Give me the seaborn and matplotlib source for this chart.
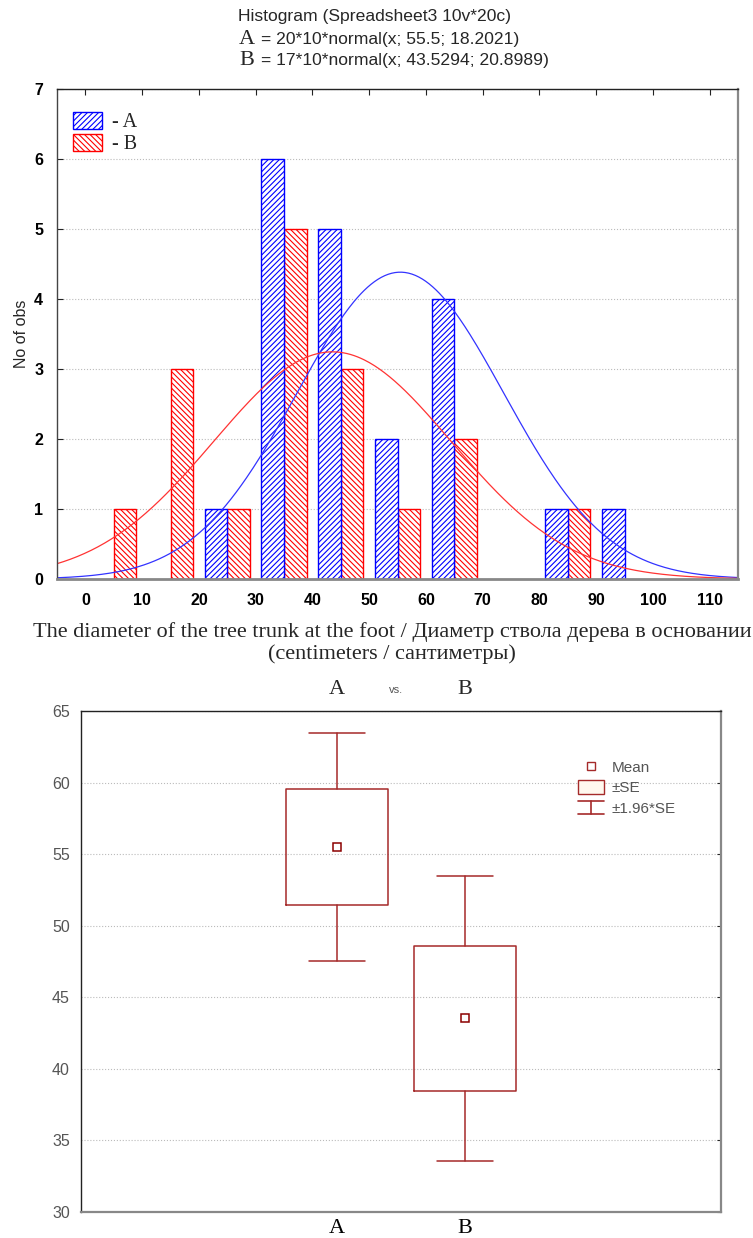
# Histogram of trunk diameters (A vs B) with fitted normal curves, plus mean/SE/1.96*SE box chart

import numpy as np
import pandas as pd
import matplotlib
matplotlib.use("Agg")
import matplotlib.pyplot as plt
import seaborn as sns
from matplotlib.patches import Patch
from matplotlib.lines import Line2D
from matplotlib.legend_handler import HandlerBase
from matplotlib.transforms import blended_transform_factory

GROUPS = ["A", "B"]
BIN_CENTERS = [5, 15, 25, 35, 45, 55, 65, 75, 85, 95]
COUNTS_A = [0, 0, 1, 6, 5, 2, 4, 0, 1, 1]
COUNTS_B = [1, 3, 1, 5, 3, 1, 2, 0, 1, 0]
N_OBS = [20, 17]
MEANS = [55.5, 43.5294]
SDS = [18.2021, 20.8989]
X_TICKS = list(range(0, 111, 10))
Y_TICKS = list(range(0, 8))
BOX_POS = [2, 3]
BOX_TICKS = [1, 2, 3, 4]
BOX_LABELS = ["", "A", "B", ""]
Y2_TICKS = list(range(30, 66, 5))

BLUE = "#0000ff"
RED = "#ff0000"
MAROON = "#a52a2a"
SERIF = ["Liberation Serif", "DejaVu Serif"]

sns.set_style("white")
plt.rcParams["font.family"] = ["Liberation Sans", "DejaVu Sans"]
plt.rcParams["hatch.linewidth"] = 0.8


# legend symbol for the 1.96*SE whisker
class WhiskerHandler(HandlerBase):
    def create_artists(self, legend, orig_handle, xd, yd, w, h, fontsize, trans):
        x0, y0 = -xd, -yd
        cx = x0 + w / 2
        kw = dict(color=MAROON, lw=1.2, transform=trans)
        return [Line2D([cx, cx], [y0, y0 + h], **kw),
                Line2D([x0, x0 + w], [y0 + h, y0 + h], **kw),
                Line2D([x0, x0 + w], [y0, y0], **kw)]


fig = plt.figure(figsize=(7.53, 12.38), dpi=100)

# ---------- histogram ----------
ax = fig.add_axes([0.0757, 0.5323, 0.9044, 0.3958])
hist_df = pd.DataFrame({
    "diameter": BIN_CENTERS * 2,
    "count": COUNTS_A + COUNTS_B,
    "group": ["A"] * len(BIN_CENTERS) + ["B"] * len(BIN_CENTERS),
})
sns.histplot(data=hist_df, x="diameter", weights="count", hue="group",
             hue_order=GROUPS, binwidth=10, binrange=(0, 100), multiple="dodge",
             shrink=0.8, palette={"A": BLUE, "B": RED}, alpha=1,
             legend=False, ax=ax)
for p in ax.patches:
    col = BLUE if p.get_facecolor()[2] > 0.5 else RED
    p.set_facecolor("white")
    p.set_edgecolor(col)
    p.set_linewidth(1.0)
    p.set_hatch("//////" if col == BLUE else "\\\\\\\\\\\\")
    if p.get_height() == 0:
        p.set_visible(False)

xs = np.linspace(-5, 115, 400)
for n, m, sd, col in zip(N_OBS, MEANS, SDS, ["#3333ff", "#ff3333"]):
    ys = n * 10 * np.exp(-0.5 * ((xs - m) / sd) ** 2) / (sd * np.sqrt(2 * np.pi))
    sns.lineplot(x=xs, y=ys, color=col, lw=0.9, estimator=None, ax=ax)

ax.set_xlim(-5, 115)
ax.set_ylim(0, 7)
ax.set_xticks(X_TICKS)
ax.set_yticks(Y_TICKS)
ax.set_xlabel("")
ax.set_ylabel("No of obs", fontsize=11.5, labelpad=4)
ax.yaxis.grid(True, ls=":", color="#bbbbbb", lw=0.8)
ax.set_axisbelow(True)
ax.tick_params(axis="both", direction="in", length=4, labelsize=11.5,
               colors="#222222", labelcolor="black")
ax.tick_params(axis="x", top=True, pad=10)
ax.tick_params(axis="y", left=True, pad=10)
for lab in ax.get_xticklabels() + ax.get_yticklabels():
    lab.set_fontweight("bold")
for side, c, w in [("top", "#222222", 1.0), ("left", "#444444", 1.0),
                   ("right", "#888888", 1.6), ("bottom", "#888888", 2.0)]:
    ax.spines[side].set_color(c)
    ax.spines[side].set_linewidth(w)

handles = [Patch(facecolor="white", edgecolor=BLUE, hatch="//////", label="- A"),
           Patch(facecolor="white", edgecolor=RED, hatch="\\\\\\\\\\\\", label="- B")]
ax.legend(handles=handles, loc="upper left", bbox_to_anchor=(0.0, 0.985),
          frameon=False, prop={"family": SERIF, "size": 14.5},
          handlelength=1.45, handleheight=0.85, handletextpad=0.5,
          labelspacing=0.1, borderaxespad=0.4)

# titles (mixed serif / sans like the original)
fig.text(0.498, 0.983, "Histogram (Spreadsheet3 10v*20c)", ha="center",
         va="baseline", fontsize=12.6)
for y, g, n, m, sd in [(0.9645, "A", 20, "55.5", "18.2021"),
                       (0.9475, "B", 17, "43.5294", "20.8989")]:
    fig.text(0.338, y, g, ha="right", va="baseline", family=SERIF, fontsize=16)
    fig.text(0.346, y, f"= {n}*10*normal(x; {m}; {sd})", ha="left",
             va="baseline", fontsize=12.6)

fig.text(0.5206, 1 - 643 / 1238,
         "The diameter of the tree trunk at the foot / Диаметр ствола дерева в основании\n"
         "(centimeters / сантиметры)",
         ha="center", va="center", multialignment="center", family=SERIF,
         fontsize=16, linespacing=1.15)

# ---------- mean / SE chart ----------
ax2 = fig.add_axes([0.1076, 0.0210, 0.8499, 0.4047])
se = [sd / np.sqrt(n) for sd, n in zip(SDS, N_OBS)]
stats = [dict(label=g, med=m, mean=m, q1=m - s, q3=m + s,
              whislo=m - 1.96 * s, whishi=m + 1.96 * s, fliers=[])
         for g, m, s in zip(GROUPS, MEANS, se)]
line_kw = dict(color=MAROON, lw=1.1)
ax2.bxp(stats, positions=BOX_POS, widths=0.8, capwidths=0.43, showmeans=True,
        manage_ticks=False, boxprops=line_kw, whiskerprops=line_kw,
        capprops=line_kw, medianprops=dict(lw=0),
        meanprops=dict(marker="s", markerfacecolor="white",
                       markeredgecolor="#8b0000", markersize=6, mew=1.1))

ax2.set_xlim(0, 5)
ax2.set_ylim(30, 65)
ax2.set_xticks(BOX_TICKS)
ax2.set_xticklabels(BOX_LABELS, family=SERIF, fontsize=16)
ax2.set_yticks(Y2_TICKS)
ax2.yaxis.grid(True, ls=":", color="#bbbbbb", lw=0.8)
ax2.set_axisbelow(True)
ax2.tick_params(axis="x", direction="in", length=4, pad=5, colors="#222222",
                labelcolor="black")
ax2.tick_params(axis="y", direction="in", length=3, left=False, right=True,
                labelleft=True, labelsize=11.5, labelcolor="#555555", pad=8)
for side, c, w in [("top", "#222222", 1.0), ("left", "#222222", 1.0),
                   ("right", "#888888", 1.6), ("bottom", "#888888", 1.6)]:
    ax2.spines[side].set_color(c)
    ax2.spines[side].set_linewidth(w)

whisk = Line2D([], [], color=MAROON)
leg_handles = [Line2D([], [], marker="s", ls="none", markerfacecolor="white",
                      markeredgecolor=MAROON, markersize=6),
               Patch(facecolor="#fff8ee", edgecolor=MAROON, lw=1.0),
               whisk]
ax2.legend(leg_handles, ["Mean", "±SE", "±1.96*SE"], loc="upper left",
           bbox_to_anchor=(0.755, 0.93), frameon=False, fontsize=11,
           labelcolor="#555555", handlelength=1.7, handleheight=1.0,
           handletextpad=0.5, labelspacing=0.35,
           handler_map={whisk: WhiskerHandler()})

# "A vs. B" heading above the lower chart
tr = blended_transform_factory(ax2.transData, fig.transFigure)
y_head = 1 - 689 / 1238
ax2.text(2, y_head, "A", transform=tr, ha="center", va="center", family=SERIF, fontsize=16)
ax2.text(3, y_head, "B", transform=tr, ha="center", va="center", family=SERIF, fontsize=16)
ax2.text(2.46, y_head - 0.001, "vs.", transform=tr, ha="center", va="center",
         fontsize=8, color="#555555")

fig.savefig("out.png", dpi=100)
plt.close(fig)
